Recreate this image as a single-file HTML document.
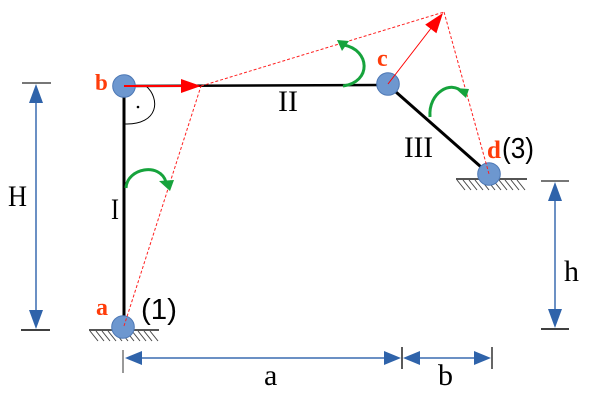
<!DOCTYPE html>
<html><head><meta charset="utf-8"><style>
html,body{margin:0;padding:0;background:#fff;}
svg{display:block;}
</style></head><body>
<svg width="608" height="402" viewBox="0 0 608 402" xmlns="http://www.w3.org/2000/svg">
<rect width="608" height="402" fill="#fff"/>

<!-- supports -->
<g stroke="#444" stroke-width="1">
<line x1="89" y1="330" x2="159" y2="330" stroke="#555" stroke-width="2"/>
<line x1="90" y1="331" x2="98" y2="341"/><line x1="96" y1="331" x2="104" y2="341"/><line x1="102" y1="331" x2="110" y2="341"/><line x1="108" y1="331" x2="116" y2="341"/><line x1="114" y1="331" x2="122" y2="341"/><line x1="120" y1="331" x2="128" y2="341"/><line x1="126" y1="331" x2="134" y2="341"/><line x1="132" y1="331" x2="140" y2="341"/><line x1="138" y1="331" x2="146" y2="341"/><line x1="144" y1="331" x2="152" y2="341"/><line x1="150" y1="331" x2="158" y2="341"/>
<line x1="456" y1="179" x2="527" y2="179" stroke="#555" stroke-width="2"/>
<line x1="457" y1="180" x2="465" y2="190"/><line x1="463" y1="180" x2="471" y2="190"/><line x1="469" y1="180" x2="477" y2="190"/><line x1="475" y1="180" x2="483" y2="190"/><line x1="481" y1="180" x2="489" y2="190"/><line x1="487" y1="180" x2="495" y2="190"/><line x1="493" y1="180" x2="501" y2="190"/><line x1="499" y1="180" x2="507" y2="190"/><line x1="505" y1="180" x2="513" y2="190"/><line x1="511" y1="180" x2="519" y2="190"/><line x1="517" y1="180" x2="525" y2="190"/>
</g>

<!-- members -->
<g stroke="#000" stroke-width="3" stroke-linecap="butt">
<line x1="124" y1="86" x2="124" y2="327"/>
<line x1="124" y1="86" x2="388" y2="85" stroke-width="2.5"/>
<line x1="388" y1="85" x2="489" y2="174"/>
</g>

<!-- right angle -->
<path d="M146,86 C160,98 160,125 124,124" fill="none" stroke="#000" stroke-width="1"/>
<circle cx="138" cy="107" r="1.3" fill="#000"/>

<!-- joints -->
<g fill="#6d97cf" stroke="#4d78b5" stroke-width="1">
<circle cx="124" cy="86" r="11.3"/>
<circle cx="388" cy="84" r="11.3"/>
<circle cx="123" cy="327" r="11.3"/>
<circle cx="489" cy="174" r="11.3"/>
</g>

<!-- red dashed -->
<g stroke="#ff2020" stroke-width="1" stroke-dasharray="3,2" fill="none">
<line x1="124" y1="326" x2="201" y2="86"/>
<line x1="201" y1="86" x2="444" y2="12"/>
<line x1="444" y1="12" x2="489" y2="174"/>
</g>

<!-- red arrows -->
<line x1="124" y1="86" x2="184" y2="86" stroke="#ff0000" stroke-width="2"/>
<polygon points="181,79 201,86 181,93" fill="#ff0000"/>
<line x1="388" y1="84" x2="432" y2="27" stroke="#ff0000" stroke-width="1"/>
<polygon points="443,13 436.4,33.2 425.2,24.6" fill="#ff0000"/>

<!-- green rotation arrows -->
<g stroke="#16a33c" stroke-width="3" fill="none">
<path d="M126,188 C127,168 160,162 166,182"/>
<path d="M343,86 C372,82 370,50 344,45"/>
<path d="M430,117 C428,92 452,80 462,92"/>
</g>
<g fill="#16a33c">
<polygon points="159,181 174,180 170,191"/>
<polygon points="337,40 349,41 342,51"/>
<polygon points="455,88 469,89 466,98"/>
</g>

<!-- dimensions -->
<g stroke="#3a6cb0" stroke-width="1.5">
<line x1="36" y1="95" x2="36" y2="318"/>
<line x1="555" y1="193" x2="555" y2="318"/>
<line x1="135" y1="358" x2="392" y2="358"/>
<line x1="412" y1="358" x2="482" y2="358"/>
</g>
<g fill="#2f63aa">
<polygon points="36,84 29,103 43,103"/>
<polygon points="36,329 29,310 43,310"/>
<polygon points="555,182 548,201 562,201"/>
<polygon points="555,328 548,309 562,309"/>
<polygon points="125,358 142,351 142,365"/>
<polygon points="401,358 384,351 384,365"/>
<polygon points="403,358 420,351 420,365"/>
<polygon points="491,358 474,351 474,365"/>
</g>
<g stroke-width="1.5">
<line x1="22" y1="83" x2="51" y2="83" stroke="#777" stroke-width="2"/>
<line x1="21" y1="330" x2="50" y2="330" stroke="#000"/>
<line x1="541" y1="181" x2="569" y2="181" stroke="#777" stroke-width="2"/>
<line x1="541" y1="329" x2="569" y2="329" stroke="#000"/>
<line x1="123" y1="350" x2="123" y2="373" stroke="#777"/>
<line x1="402" y1="347" x2="402" y2="369" stroke="#222"/>
<line x1="492" y1="347" x2="492" y2="369" stroke="#333"/>
</g>

<!-- labels -->
<g font-family="Liberation Serif, serif" font-size="30" fill="#000">
<text x="8" y="206" textLength="19" lengthAdjust="spacingAndGlyphs">H</text>
<text x="564" y="281">h</text>
<text x="264" y="385">a</text>
<text x="438" y="385">b</text>
<text x="111" y="219" textLength="8" lengthAdjust="spacingAndGlyphs">I</text>
<text x="278" y="111" textLength="20" lengthAdjust="spacingAndGlyphs">II</text>
<text x="404" y="157" textLength="29" lengthAdjust="spacingAndGlyphs">III</text>
</g>
<g font-family="Liberation Serif, serif" font-weight="bold" fill="#ff3c0a">
<text x="95" y="90" font-size="23">b</text>
<text x="96" y="315" font-size="24">a</text>
<text x="377" y="66" font-size="24">c</text>
<text x="487" y="158" font-size="25">d</text>
</g>
<g font-family="Liberation Sans, sans-serif" font-size="29" fill="#000">
<text x="141" y="319" textLength="36" lengthAdjust="spacingAndGlyphs">(1)</text>
<text x="502" y="158" textLength="32" lengthAdjust="spacingAndGlyphs">(3)</text>
</g>
</svg>
</body></html>
